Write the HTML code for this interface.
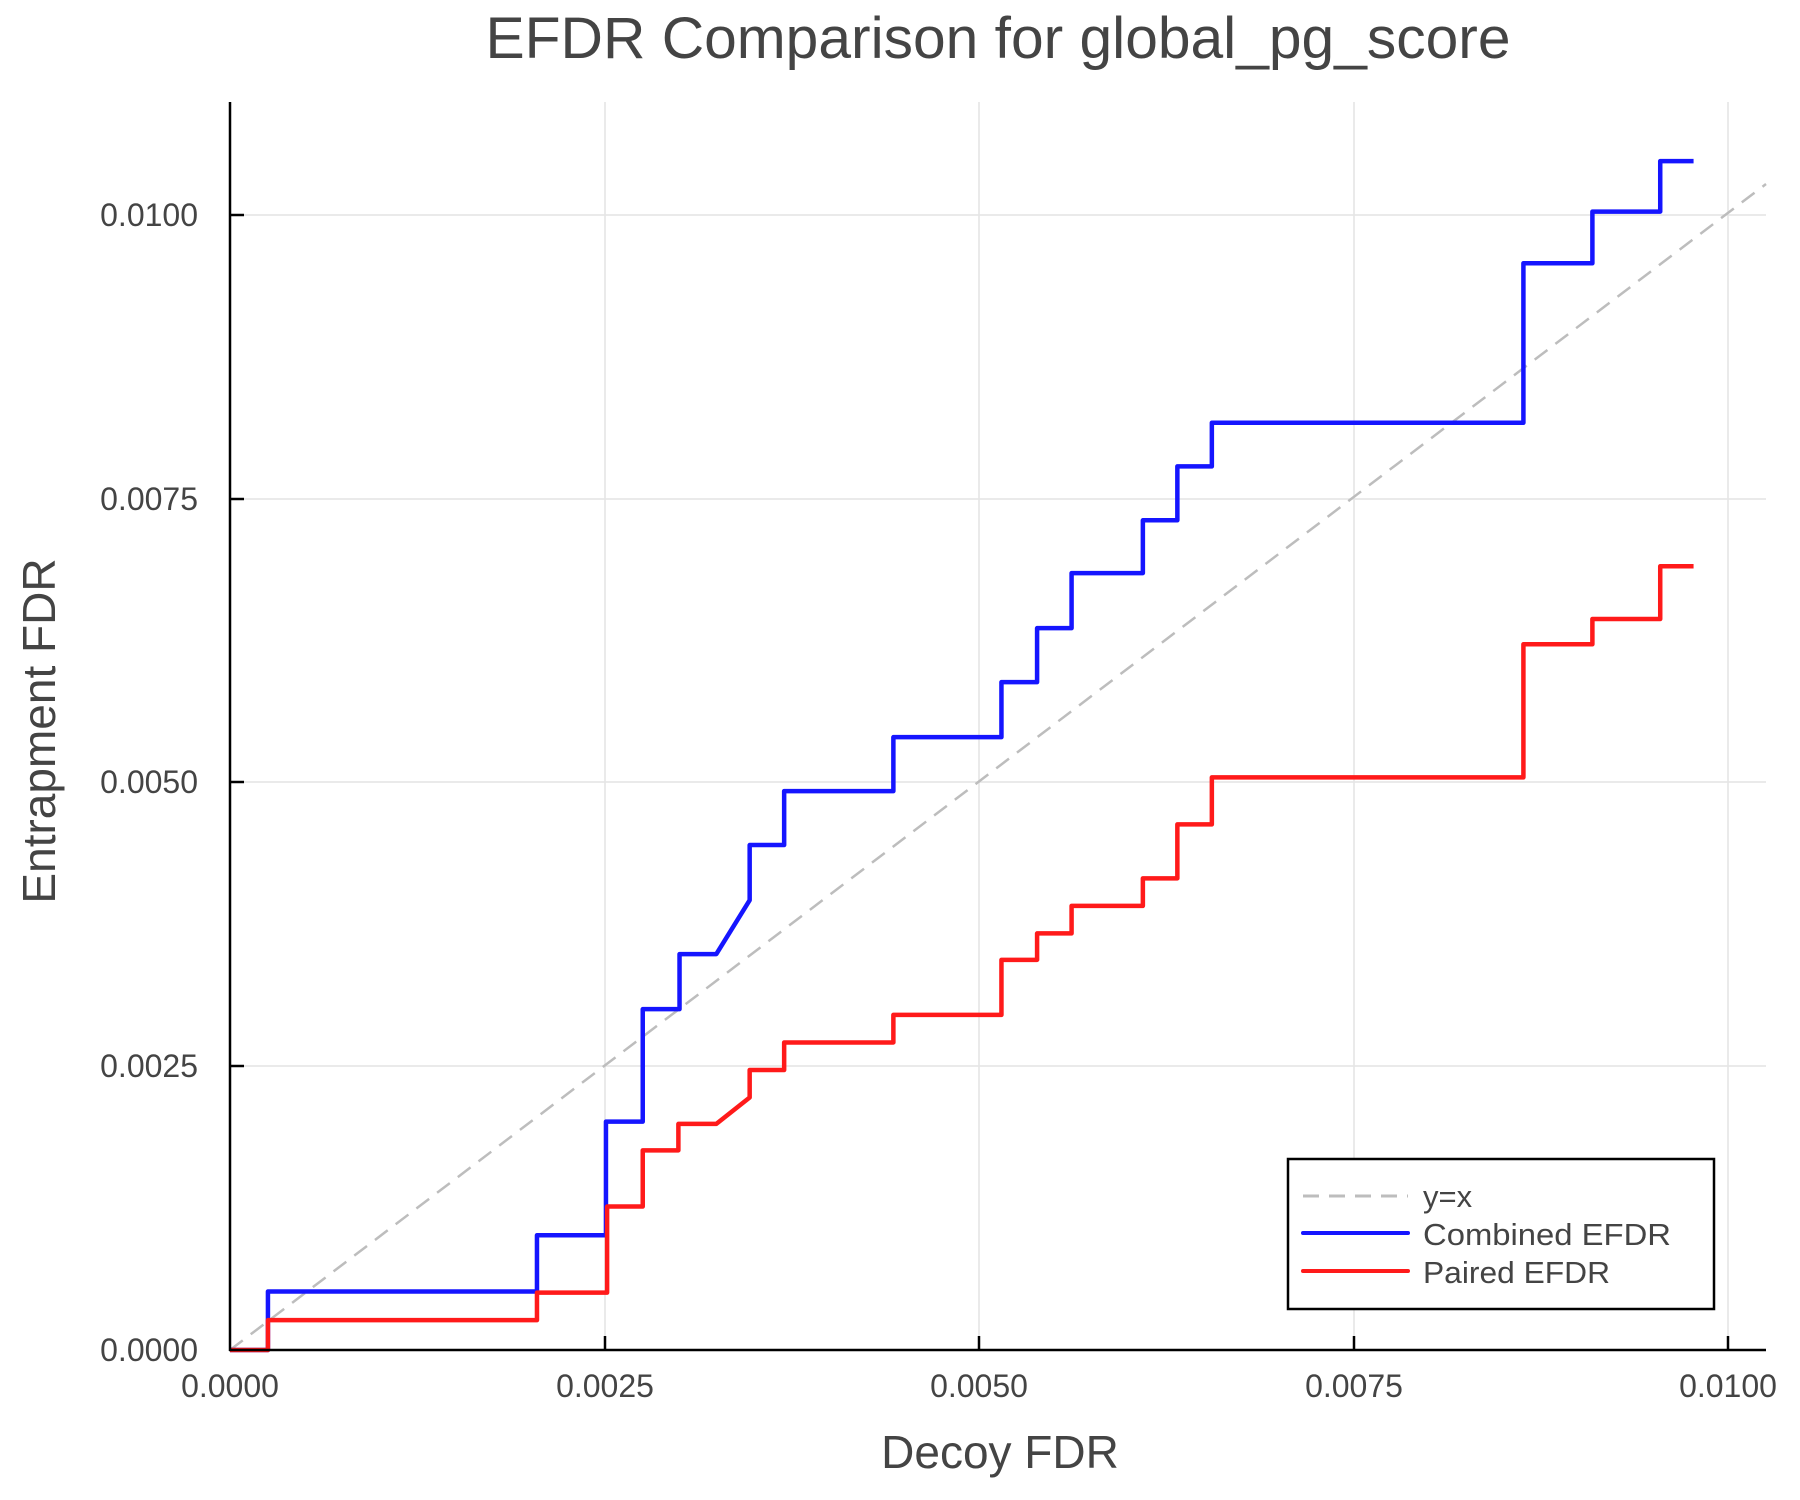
<!DOCTYPE html>
<html><head><meta charset="utf-8"><style>
html,body{margin:0;padding:0;background:#fff;}
svg{display:block;font-family:"Liberation Sans",Arial,sans-serif;}
</style></head><body>
<svg width="1800" height="1500" viewBox="0 0 1800 1500" xmlns="http://www.w3.org/2000/svg">
<rect width="1800" height="1500" fill="#fff"/>
<text x="998" y="58" font-size="58" fill="#444" text-anchor="middle" textLength="1025" lengthAdjust="spacingAndGlyphs">EFDR Comparison for global_pg_score</text>
<g stroke="#e4e4e4" stroke-width="1.5">
<line x1="605" y1="102" x2="605" y2="1350"/>
<line x1="979" y1="102" x2="979" y2="1350"/>
<line x1="1354" y1="102" x2="1354" y2="1350"/>
<line x1="1728" y1="102" x2="1728" y2="1350"/>
<line x1="230" y1="1066" x2="1766" y2="1066"/>
<line x1="230" y1="782" x2="1766" y2="782"/>
<line x1="230" y1="499" x2="1766" y2="499"/>
<line x1="230" y1="215" x2="1766" y2="215"/>
</g>
<g transform="translate(230,1350) scale(1.1497,1.1476) translate(-201,-1177)" fill="none" stroke-linejoin="round">
<line x1="201" y1="1177" x2="1537" y2="161" stroke="#bdbdbd" stroke-dasharray="16,10" vector-effect="non-scaling-stroke" stroke-width="2.5"/>
<polyline vector-effect="non-scaling-stroke" stroke-width="4.5" stroke="#1515ff" points="201,1177 234,1177 234,1126 468,1126 468,1077 528,1077 528,978 560,978 560,880 592,880 592,832 624,832 653,785 653,737 683,737 683,690 778,690 778,643 872,643 872,595 903,595 903,548 933,548 933,500 995,500 995,454 1025,454 1025,407 1055,407 1055,369 1326,369 1326,230 1386,230 1386,185 1445,185 1445,141 1474,141"/>
<polyline vector-effect="non-scaling-stroke" stroke-width="4.5" stroke="#ff1a1a" points="201,1177 234,1177 234,1151 468,1151 468,1127 529,1127 529,1052 560,1052 560,1003 591,1003 591,980 624,980 653,957 653,933 683,933 683,909 778,909 778,885 872,885 872,837 903,837 903,814 933,814 933,790 995,790 995,766 1025,766 1025,719 1055,719 1055,678 1326,678 1326,562 1386,562 1386,540 1445,540 1445,494 1474,494"/>
</g>
<g stroke="#000" stroke-width="2.5">
<line x1="230" y1="102" x2="230" y2="1351"/>
<line x1="229" y1="1350" x2="1766" y2="1350"/>
<line x1="605" y1="1350" x2="605" y2="1336"/>
<line x1="979" y1="1350" x2="979" y2="1336"/>
<line x1="1354" y1="1350" x2="1354" y2="1336"/>
<line x1="1728" y1="1350" x2="1728" y2="1336"/>
<line x1="230" y1="1066" x2="244" y2="1066"/>
<line x1="230" y1="782" x2="244" y2="782"/>
<line x1="230" y1="499" x2="244" y2="499"/>
<line x1="230" y1="215" x2="244" y2="215"/>
</g>
<g font-size="32" fill="#444" text-anchor="end">
<text x="198" y="1361">0.0000</text>
<text x="198" y="1077">0.0025</text>
<text x="198" y="793">0.0050</text>
<text x="198" y="510">0.0075</text>
<text x="198" y="226">0.0100</text>
</g>
<g font-size="32" fill="#444" text-anchor="middle">
<text x="230" y="1397">0.0000</text>
<text x="605" y="1397">0.0025</text>
<text x="979" y="1397">0.0050</text>
<text x="1354" y="1397">0.0075</text>
<text x="1728" y="1397">0.0100</text>
</g>
<text x="1000" y="1468" font-size="46" fill="#444" text-anchor="middle">Decoy FDR</text>
<text transform="translate(55,731) rotate(-90)" font-size="46" fill="#444" text-anchor="middle">Entrapment FDR</text>
<rect x="1288" y="1159" width="426" height="150" fill="#fff" stroke="#000" stroke-width="2.5"/>
<line x1="1303" y1="1196" x2="1408" y2="1196" stroke="#bdbdbd" stroke-width="3" stroke-dasharray="16,10"/>
<line x1="1303" y1="1233" x2="1408" y2="1233" stroke="#1515ff" stroke-width="4" stroke-linecap="round"/>
<line x1="1303" y1="1271" x2="1408" y2="1271" stroke="#ff1a1a" stroke-width="4" stroke-linecap="round"/>
<g font-size="31" fill="#444">
<text x="1423" y="1207">y=x</text>
<text x="1423" y="1245" textLength="248" lengthAdjust="spacingAndGlyphs">Combined EFDR</text>
<text x="1423" y="1283" textLength="187" lengthAdjust="spacingAndGlyphs">Paired EFDR</text>
</g>
</svg>
</body></html>
